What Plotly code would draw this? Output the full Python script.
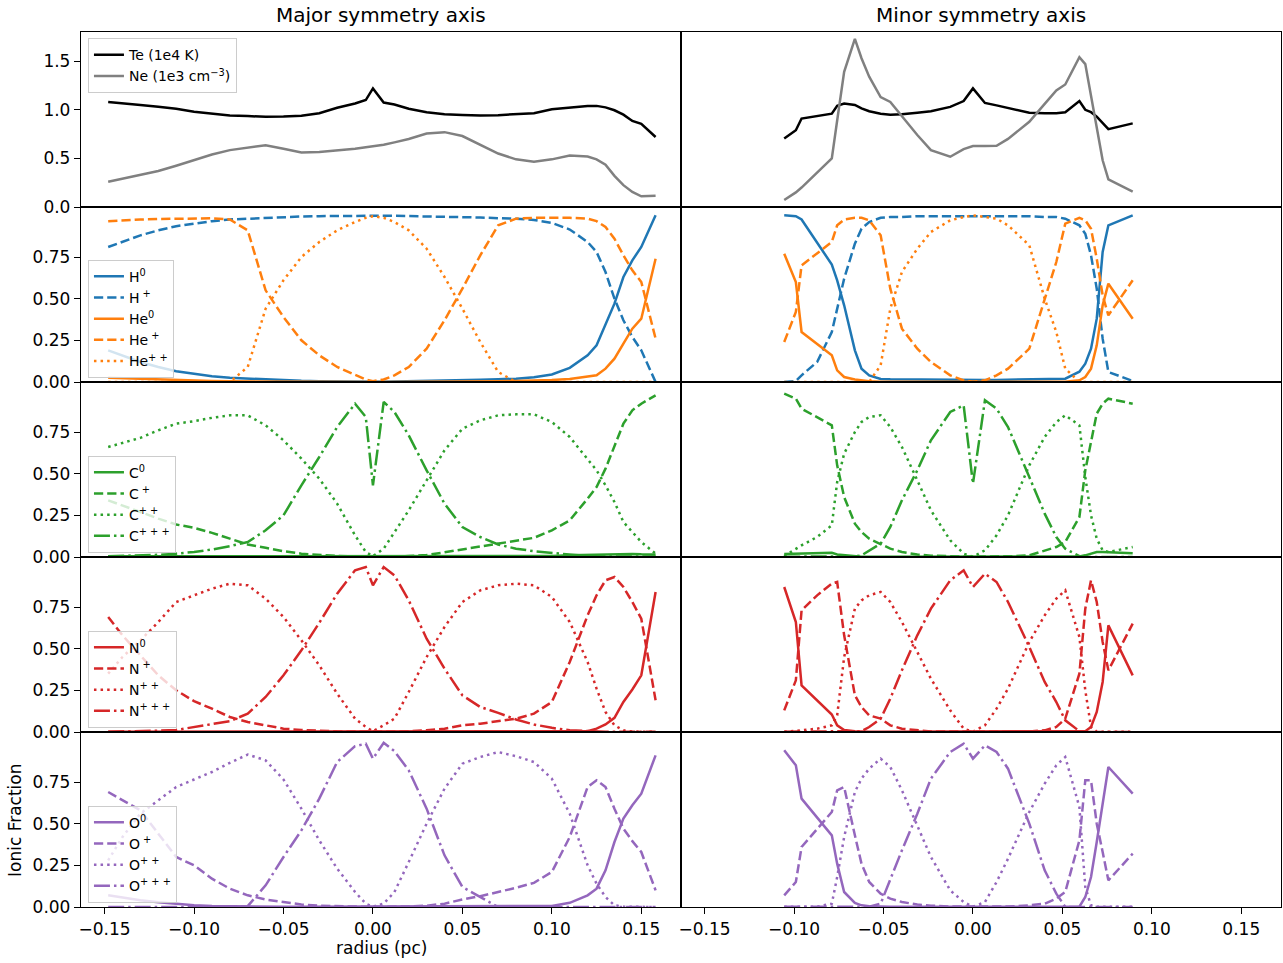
import plotly.graph_objects as go
from plotly.subplots import make_subplots

FONT = "DejaVu Sans"

# ---------------- radius grids (pc) ----------------
R_MAJOR = [-0.148, -0.140, -0.130, -0.120, -0.110, -0.100, -0.090, -0.080, -0.070, -0.060,
           -0.050, -0.040, -0.030, -0.020, -0.010, -0.004, 0.000, 0.006, 0.012, 0.020,
           0.030, 0.040, 0.050, 0.060, 0.070, 0.080, 0.090, 0.100, 0.110, 0.120,
           0.125, 0.130, 0.135, 0.140, 0.145, 0.150, 0.158]
R_MINOR = [-0.1055, -0.0990, -0.0958, -0.0871, -0.0789, -0.0759, -0.0720, -0.0660, -0.0623, -0.0580,
           -0.0516, -0.0462, -0.0397, -0.0311, -0.0235, -0.0127, -0.0052, 0.0000, 0.0067, 0.0132,
           0.0196, 0.0315, 0.0401, 0.0466, 0.0516, 0.0595, 0.0628, 0.0660, 0.0692, 0.0725,
           0.0757, 0.0893]

# ---------------- Te / Ne ----------------
TE_MAJOR = [1.08, 1.07, 1.05, 1.03, 1.01, 0.98, 0.958, 0.942, 0.935, 0.928, 0.93, 0.938, 0.965, 1.02,
            1.065, 1.10, 1.22, 1.075, 1.055, 1.01, 0.975, 0.955, 0.947, 0.942, 0.945, 0.952, 0.965,
            1.005, 1.025, 1.04, 1.04, 1.025, 0.995, 0.95, 0.885, 0.855, 0.72]
NE_MAJOR = [0.26, 0.29, 0.325, 0.37, 0.425, 0.485, 0.54, 0.585, 0.61, 0.635, 0.60, 0.56, 0.565, 0.58,
            0.60, 0.615, 0.625, 0.64, 0.665, 0.70, 0.755, 0.77, 0.73, 0.64, 0.55, 0.49, 0.465, 0.49,
            0.53, 0.52, 0.49, 0.435, 0.32, 0.225, 0.155, 0.11, 0.116]
TE_MINOR = [0.705, 0.79, 0.91, 0.935, 0.96, 1.04, 1.065, 1.05, 1.015, 0.985, 0.96, 0.95, 0.955, 0.97,
            0.985, 1.03, 1.09, 1.22, 1.07, 1.045, 1.02, 0.97, 0.965, 0.965, 0.975, 1.09, 1.0, 0.975,
            0.93, 0.86, 0.80, 0.86]
NE_MINOR = [0.072, 0.15, 0.20, 0.35, 0.50, 0.89, 1.39, 1.73, 1.53, 1.34, 1.13, 1.08, 0.93, 0.74,
            0.585, 0.517, 0.595, 0.627, 0.627, 0.63, 0.70, 0.877, 1.06, 1.20, 1.26, 1.54, 1.47, 1.13,
            0.79, 0.48, 0.284, 0.158]

# ---------------- H / He ----------------
H0_MAJOR = [0.19, 0.16, 0.12, 0.09, 0.065, 0.05, 0.035, 0.025, 0.02, 0.015, 0.01, 0.007, 0.005, 0.003,
            0.002, 0.002, 0.002, 0.002, 0.003, 0.004, 0.006, 0.008, 0.01, 0.013, 0.017, 0.02, 0.028,
            0.045, 0.085, 0.16, 0.22, 0.34, 0.47, 0.63, 0.73, 0.81, 1.0]
HP_MAJOR = [0.81, 0.84, 0.88, 0.91, 0.935, 0.95, 0.965, 0.975, 0.98, 0.985, 0.99, 0.993, 0.995, 0.997,
            0.998, 0.998, 0.998, 0.998, 0.997, 0.996, 0.994, 0.992, 0.99, 0.987, 0.983, 0.98, 0.972,
            0.955, 0.915, 0.84, 0.78, 0.66, 0.50, 0.37, 0.27, 0.19, 0.0]
HE0_MAJOR = [0.025, 0.022, 0.018, 0.015, 0.012, 0.009, 0.006, 0.004, 0.003, 0.002, 0.001, 0.001, 0.0,
             0.0, 0.0, 0.0, 0.0, 0.0, 0.0, 0.0, 0.0, 0.0, 0.001, 0.002, 0.004, 0.006, 0.008, 0.012,
             0.018, 0.03, 0.04, 0.08, 0.14, 0.23, 0.32, 0.38, 0.74]
HEP_MAJOR = [0.965, 0.97, 0.975, 0.978, 0.98, 0.982, 0.982, 0.975, 0.91, 0.55, 0.39, 0.25, 0.16, 0.09,
             0.04, 0.015, 0.005, 0.015, 0.04, 0.09, 0.2, 0.37, 0.56, 0.76, 0.94, 0.98, 0.985, 0.985,
             0.985, 0.98, 0.965, 0.93, 0.86, 0.76, 0.67, 0.60, 0.26]
HEPP_MAJOR = [0.0, 0.0, 0.0, 0.0, 0.0, 0.0, 0.0, 0.0, 0.09, 0.44, 0.61, 0.75, 0.84, 0.91, 0.96, 0.985,
              0.995, 0.985, 0.96, 0.91, 0.80, 0.63, 0.44, 0.24, 0.06, 0.0, 0.0, 0.0, 0.0, 0.0, 0.0,
              0.0, 0.0, 0.0, 0.0, 0.0, 0.0]
H0_MINOR = [1.0, 0.995, 0.975, 0.84, 0.705, 0.61, 0.46, 0.19, 0.08, 0.04, 0.018, 0.016, 0.015, 0.014,
            0.013, 0.012, 0.012, 0.012, 0.012, 0.012, 0.013, 0.014, 0.015, 0.016, 0.02, 0.062, 0.11,
            0.20, 0.38, 0.78, 0.94, 1.0]
HP_MINOR = [0.0, 0.006, 0.04, 0.12, 0.30, 0.44, 0.62, 0.83, 0.92, 0.96, 0.985, 0.99, 0.99, 0.995,
            0.995, 0.998, 0.998, 0.998, 0.998, 0.998, 0.998, 0.995, 0.99, 0.99, 0.98, 0.94, 0.89,
            0.76, 0.56, 0.26, 0.06, 0.006]
HE0_MINOR = [0.77, 0.60, 0.30, 0.23, 0.16, 0.07, 0.03, 0.015, 0.01, 0.005, 0.002, 0.002, 0.002, 0.002,
             0.002, 0.002, 0.002, 0.002, 0.002, 0.002, 0.002, 0.002, 0.002, 0.002, 0.002, 0.01, 0.03,
             0.08, 0.22, 0.46, 0.59, 0.38]
HEP_MINOR = [0.24, 0.42, 0.70, 0.775, 0.84, 0.94, 0.975, 0.985, 0.985, 0.97, 0.88, 0.56, 0.32, 0.20,
             0.12, 0.04, 0.01, 0.002, 0.01, 0.04, 0.08, 0.20, 0.50, 0.72, 0.95, 0.985, 0.97, 0.92,
             0.74, 0.52, 0.40, 0.61]
HEPP_MINOR = [0.0, 0.0, 0.0, 0.0, 0.0, 0.0, 0.0, 0.0, 0.0, 0.0, 0.10, 0.44, 0.66, 0.80, 0.90, 0.97,
              0.99, 1.0, 0.99, 0.98, 0.94, 0.82, 0.50, 0.30, 0.08, 0.0, 0.0, 0.0, 0.0, 0.0, 0.0, 0.0]

# ---------------- C ----------------
C0_MAJOR = [0.004, 0.004, 0.004, 0.004, 0.004, 0.004, 0.004, 0.004, 0.004, 0.004, 0.004, 0.004, 0.003,
            0.003, 0.003, 0.003, 0.003, 0.003, 0.003, 0.003, 0.003, 0.003, 0.003, 0.003, 0.003, 0.003,
            0.003, 0.006, 0.01, 0.012, 0.014, 0.016, 0.018, 0.018, 0.018, 0.016, 0.015]
CP_MAJOR = [0.34, 0.31, 0.27, 0.23, 0.195, 0.175, 0.145, 0.11, 0.075, 0.055, 0.035, 0.02, 0.012, 0.006,
            0.003, 0.002, 0.002, 0.002, 0.003, 0.006, 0.012, 0.028, 0.045, 0.06, 0.08, 0.095, 0.115,
            0.16, 0.22, 0.35, 0.42, 0.53, 0.66, 0.80, 0.88, 0.92, 0.97]
CPP_MAJOR = [0.66, 0.685, 0.715, 0.76, 0.80, 0.815, 0.835, 0.85, 0.85, 0.79, 0.70, 0.59, 0.47, 0.32,
             0.13, 0.03, 0.005, 0.05, 0.15, 0.28, 0.46, 0.64, 0.77, 0.82, 0.85, 0.856, 0.856, 0.81,
             0.72, 0.59, 0.52, 0.43, 0.33, 0.21, 0.15, 0.09, 0.02]
CPPP_MAJOR = [0.005, 0.007, 0.01, 0.013, 0.02, 0.03, 0.045, 0.065, 0.09, 0.16, 0.25, 0.43, 0.60, 0.78,
              0.92, 0.84, 0.43, 0.93, 0.87, 0.73, 0.52, 0.32, 0.18, 0.12, 0.075, 0.05, 0.035, 0.025,
              0.012, 0.005, 0.003, 0.003, 0.003, 0.003, 0.003, 0.003, 0.003]
C0_MINOR = [0.018, 0.02, 0.02, 0.022, 0.025, 0.015, 0.01, 0.005, 0.002, 0.002, 0.002, 0.002, 0.002,
            0.002, 0.002, 0.002, 0.002, 0.002, 0.002, 0.002, 0.002, 0.002, 0.002, 0.002, 0.002, 0.003,
            0.01, 0.02, 0.03, 0.03, 0.028, 0.022]
CP_MINOR = [0.98, 0.95, 0.89, 0.84, 0.79, 0.55, 0.36, 0.20, 0.15, 0.11, 0.08, 0.05, 0.03, 0.015, 0.008,
            0.003, 0.003, 0.003, 0.003, 0.003, 0.004, 0.01, 0.04, 0.06, 0.09, 0.24, 0.52, 0.70, 0.86,
            0.92, 0.95, 0.92]
CPP_MINOR = [0.005, 0.05, 0.07, 0.12, 0.19, 0.45, 0.62, 0.75, 0.81, 0.84, 0.85, 0.78, 0.66, 0.46, 0.28,
             0.10, 0.02, 0.002, 0.04, 0.13, 0.25, 0.55, 0.72, 0.81, 0.85, 0.79, 0.48, 0.25, 0.11, 0.04,
             0.03, 0.06]
CPPP_MINOR = [0.002, 0.002, 0.002, 0.002, 0.002, 0.002, 0.002, 0.003, 0.01, 0.04, 0.08, 0.18, 0.34,
              0.52, 0.70, 0.87, 0.91, 0.44, 0.94, 0.89, 0.78, 0.48, 0.26, 0.12, 0.05, 0.005, 0.0, 0.0,
              0.0, 0.0, 0.0, 0.0]

# ---------------- N ----------------
N0_MAJOR = [0.002, 0.002, 0.002, 0.002, 0.002, 0.002, 0.002, 0.002, 0.002, 0.002, 0.002, 0.002, 0.002,
            0.002, 0.002, 0.002, 0.002, 0.002, 0.002, 0.002, 0.002, 0.002, 0.002, 0.002, 0.002, 0.002,
            0.002, 0.002, 0.002, 0.005, 0.02, 0.045, 0.085, 0.18, 0.255, 0.34, 0.84]
NP_MAJOR = [0.69, 0.58, 0.46, 0.34, 0.25, 0.185, 0.14, 0.09, 0.06, 0.04, 0.02, 0.012, 0.007, 0.004,
            0.003, 0.002, 0.002, 0.002, 0.003, 0.005, 0.01, 0.02, 0.04, 0.05, 0.065, 0.08, 0.11, 0.18,
            0.42, 0.70, 0.82, 0.91, 0.93, 0.87, 0.78, 0.68, 0.19]
NPP_MAJOR = [0.35, 0.45, 0.55, 0.66, 0.78, 0.82, 0.86, 0.89, 0.88, 0.80, 0.69, 0.55, 0.40, 0.23, 0.08,
             0.03, 0.005, 0.04, 0.08, 0.24, 0.45, 0.63, 0.78, 0.85, 0.88, 0.89, 0.88, 0.81, 0.66, 0.42,
             0.26, 0.12, 0.04, 0.01, 0.003, 0.002, 0.002]
NPPP_MAJOR = [0.002, 0.003, 0.005, 0.008, 0.012, 0.03, 0.045, 0.065, 0.11, 0.21, 0.34, 0.49, 0.655,
              0.83, 0.97, 0.99, 0.88, 0.99, 0.94, 0.79, 0.56, 0.38, 0.22, 0.15, 0.115, 0.075, 0.045,
              0.025, 0.01, 0.005, 0.003, 0.002, 0.002, 0.002, 0.002, 0.002, 0.002]
N0_MINOR = [0.87, 0.66, 0.28, 0.19, 0.105, 0.04, 0.012, 0.005, 0.002, 0.002, 0.002, 0.002, 0.002,
            0.002, 0.002, 0.002, 0.002, 0.002, 0.002, 0.002, 0.002, 0.002, 0.002, 0.002, 0.002, 0.002,
            0.005, 0.03, 0.12, 0.30, 0.64, 0.34]
NP_MINOR = [0.13, 0.31, 0.73, 0.82, 0.89, 0.90, 0.58, 0.22, 0.15, 0.10, 0.08, 0.04, 0.02, 0.01, 0.003,
            0.003, 0.003, 0.003, 0.003, 0.003, 0.003, 0.003, 0.01, 0.03, 0.08, 0.35, 0.74, 0.91, 0.78,
            0.54, 0.37, 0.65]
NPP_MINOR = [0.002, 0.005, 0.01, 0.02, 0.04, 0.10, 0.45, 0.74, 0.79, 0.82, 0.84, 0.78, 0.66, 0.48, 0.32,
             0.13, 0.02, 0.002, 0.04, 0.14, 0.26, 0.54, 0.70, 0.80, 0.85, 0.57, 0.25, 0.03, 0.002,
             0.002, 0.002, 0.002]
NPPP_MINOR = [0.002, 0.002, 0.002, 0.002, 0.002, 0.002, 0.002, 0.002, 0.005, 0.03, 0.08, 0.20, 0.37,
              0.58, 0.74, 0.91, 0.97, 0.87, 0.95, 0.90, 0.78, 0.51, 0.30, 0.18, 0.07, 0.005, 0.0, 0.0,
              0.0, 0.0, 0.0, 0.0]

# ---------------- O ----------------
O0_MAJOR = [0.07, 0.055, 0.04, 0.028, 0.018, 0.01, 0.006, 0.004, 0.003, 0.002, 0.002, 0.002, 0.002,
            0.002, 0.002, 0.002, 0.002, 0.002, 0.002, 0.002, 0.002, 0.002, 0.002, 0.002, 0.002, 0.002,
            0.003, 0.006, 0.025, 0.07, 0.11, 0.22, 0.39, 0.53, 0.61, 0.68, 0.91]
OP_MAJOR = [0.69, 0.64, 0.58, 0.44, 0.30, 0.25, 0.17, 0.11, 0.07, 0.045, 0.03, 0.015, 0.008, 0.004,
            0.002, 0.001, 0.001, 0.001, 0.002, 0.003, 0.008, 0.02, 0.045, 0.065, 0.09, 0.115, 0.145,
            0.21, 0.42, 0.72, 0.76, 0.72, 0.59, 0.47, 0.395, 0.33, 0.10]
OPP_MAJOR = [0.28, 0.42, 0.56, 0.64, 0.72, 0.765, 0.81, 0.865, 0.915, 0.88, 0.765, 0.59, 0.40, 0.23,
             0.09, 0.02, 0.002, 0.02, 0.09, 0.27, 0.50, 0.71, 0.86, 0.90, 0.93, 0.905, 0.87, 0.77,
             0.56, 0.25, 0.14, 0.06, 0.01, 0.002, 0.001, 0.0, 0.0]
OPPP_MAJOR = [0.0, 0.0, 0.0, 0.0, 0.0, 0.0, 0.0, 0.0, 0.005, 0.13, 0.30, 0.46, 0.65, 0.87, 0.965, 0.98,
              0.89, 0.985, 0.935, 0.82, 0.59, 0.31, 0.12, 0.06, 0.0, 0.0, 0.0, 0.0, 0.0, 0.0, 0.0,
              0.0, 0.0, 0.0, 0.0, 0.0, 0.0]
O0_MINOR = [0.94, 0.85, 0.65, 0.54, 0.43, 0.26, 0.09, 0.025, 0.01, 0.005, 0.002, 0.002, 0.002, 0.002,
            0.002, 0.002, 0.002, 0.002, 0.002, 0.002, 0.002, 0.002, 0.002, 0.002, 0.002, 0.002, 0.06,
            0.18, 0.39, 0.62, 0.84, 0.68]
OP_MINOR = [0.07, 0.15, 0.36, 0.47, 0.57, 0.70, 0.72, 0.43, 0.26, 0.15, 0.08, 0.05, 0.03, 0.015,
            0.008, 0.003, 0.003, 0.003, 0.003, 0.003, 0.003, 0.01, 0.02, 0.05, 0.09, 0.40, 0.76, 0.76,
            0.50, 0.33, 0.16, 0.32]
OPP_MINOR = [0.002, 0.002, 0.002, 0.002, 0.02, 0.18, 0.42, 0.69, 0.77, 0.83, 0.89, 0.84, 0.70, 0.49,
             0.30, 0.10, 0.03, 0.002, 0.03, 0.15, 0.29, 0.57, 0.74, 0.85, 0.90, 0.60, 0.12, 0.01,
             0.002, 0.002, 0.002, 0.002]
OPPP_MINOR = [0.002, 0.002, 0.002, 0.002, 0.002, 0.002, 0.002, 0.002, 0.002, 0.002, 0.02, 0.17, 0.34,
              0.56, 0.77, 0.93, 0.98, 0.89, 0.97, 0.93, 0.83, 0.50, 0.22, 0.08, 0.0, 0.0, 0.0, 0.0,
              0.0, 0.0, 0.0, 0.0]

# ---------------- labels / ticks ----------------
TITLES = ["Major symmetry axis", "Minor symmetry axis"]
X_TICKS = [-0.15, -0.10, -0.05, 0.0, 0.05, 0.10, 0.15]
X_TICKTEXT = ["\u22120.15", "\u22120.10", "\u22120.05", "0.00", "0.05", "0.10", "0.15"]
Y_TICKS_TOP = [0.0, 0.5, 1.0, 1.5]
Y_TICKTEXT_TOP = ["0.0", "0.5", "1.0", "1.5"]
Y_TICKS_ION = [0.0, 0.25, 0.5, 0.75]
Y_TICKTEXT_ION = ["0.00", "0.25", "0.50", "0.75"]

BLUE, ORANGE, GREEN, RED, PURPLE = "#1f77b4", "#ff7f0e", "#2ca02c", "#d62728", "#9467bd"

PANELS = [
    (1, "legend", [("Te (1e4 K)", "black", "-", TE_MAJOR, TE_MINOR),
                   ("Ne (1e3 cm<sup>\u22123</sup>)", "gray", "-", NE_MAJOR, NE_MINOR)]),
    (2, "legend2", [("H<sup>0</sup>", BLUE, "-", H0_MAJOR, H0_MINOR),
                    ("H<sup> +</sup>", BLUE, "--", HP_MAJOR, HP_MINOR),
                    ("He<sup>0</sup>", ORANGE, "-", HE0_MAJOR, HE0_MINOR),
                    ("He<sup> +</sup>", ORANGE, "--", HEP_MAJOR, HEP_MINOR),
                    ("He<sup>+ +</sup>", ORANGE, ":", HEPP_MAJOR, HEPP_MINOR)]),
    (3, "legend3", [("C<sup>0</sup>", GREEN, "-", C0_MAJOR, C0_MINOR),
                    ("C<sup> +</sup>", GREEN, "--", CP_MAJOR, CP_MINOR),
                    ("C<sup>+ +</sup>", GREEN, ":", CPP_MAJOR, CPP_MINOR),
                    ("C<sup>+ + +</sup>", GREEN, "-.", CPPP_MAJOR, CPPP_MINOR)]),
    (4, "legend4", [("N<sup>0</sup>", RED, "-", N0_MAJOR, N0_MINOR),
                    ("N<sup> +</sup>", RED, "--", NP_MAJOR, NP_MINOR),
                    ("N<sup>+ +</sup>", RED, ":", NPP_MAJOR, NPP_MINOR),
                    ("N<sup>+ + +</sup>", RED, "-.", NPPP_MAJOR, NPPP_MINOR)]),
    (5, "legend5", [("O<sup>0</sup>", PURPLE, "-", O0_MAJOR, O0_MINOR),
                    ("O<sup> +</sup>", PURPLE, "--", OP_MAJOR, OP_MINOR),
                    ("O<sup>+ +</sup>", PURPLE, ":", OPP_MAJOR, OPP_MINOR),
                    ("O<sup>+ + +</sup>", PURPLE, "-.", OPPP_MAJOR, OPPP_MINOR)]),
]

DASH = {"-": "solid", "--": "9.25px,4px", ":": "2.5px,4.1px", "-.": "16px,4px,2.5px,4px"}
LW = 2.5

fig = make_subplots(rows=5, cols=2, horizontal_spacing=0, vertical_spacing=0)

for row, leg, series in PANELS:
    for name, color, style, ymaj, ymin in series:
        line = dict(color=color, width=LW, dash=DASH[style])
        fig.add_trace(go.Scatter(x=R_MAJOR, y=ymaj, mode="lines", name=name, line=line,
                                 legend=leg, showlegend=True, hoverinfo="skip"), row=row, col=1)
        fig.add_trace(go.Scatter(x=R_MINOR, y=ymin, mode="lines", name=name, line=line,
                                 legend=leg, showlegend=False, hoverinfo="skip"), row=row, col=2)

XR = [-0.1632, 0.1722]
tickfont = dict(family=FONT, size=17, color="black")
axis_common = dict(showline=True, mirror=True, linecolor="black", linewidth=1.3,
                   showgrid=False, zeroline=False, ticklen=6, tickwidth=1.3,
                   tickcolor="black", tickfont=tickfont)

for r in range(1, 6):
    for c in (1, 2):
        fig.update_xaxes(row=r, col=c, range=XR, tickvals=X_TICKS, ticktext=X_TICKTEXT,
                         ticks="outside" if r == 5 else "", showticklabels=(r == 5),
                         **axis_common)
        if r == 1:
            yr, tv, tt = [0, 1.8], Y_TICKS_TOP, Y_TICKTEXT_TOP
        else:
            yr, tv, tt = [0, 1.05], Y_TICKS_ION, Y_TICKTEXT_ION
        fig.update_yaxes(row=r, col=c, range=yr, tickvals=tv, ticktext=tt,
                         ticks="outside" if c == 1 else "", showticklabels=(c == 1),
                         **axis_common)

legend_common = dict(bgcolor="rgba(255,255,255,0.8)", bordercolor="#cccccc", borderwidth=1,
                     font=dict(family=FONT, size=14, color="black"), tracegroupgap=0,
                     itemwidth=30, xanchor="left", x=0.0058)

fig.update_layout(
    width=1283, height=963, autosize=False,
    margin=dict(l=81, r=1, t=32, b=56),
    paper_bgcolor="white", plot_bgcolor="white",
    font=dict(family=FONT, color="black"),
    legend=dict(y=0.993, yanchor="top", **legend_common),
    legend2=dict(y=0.605, yanchor="bottom", **legend_common),
    legend3=dict(y=0.405, yanchor="bottom", **legend_common),
    legend4=dict(y=0.205, yanchor="bottom", **legend_common),
    legend5=dict(y=0.005, yanchor="bottom", **legend_common),
)

annotations = [
    dict(text=TITLES[0], x=0.25, y=1.0194, xref="paper", yref="paper", showarrow=False,
         xanchor="center", yanchor="middle", font=dict(family=FONT, size=20, color="black")),
    dict(text=TITLES[1], x=0.75, y=1.0194, xref="paper", yref="paper", showarrow=False,
         xanchor="center", yanchor="middle", font=dict(family=FONT, size=20, color="black")),
    dict(text="radius (pc)", x=0.25, y=-0.047, xref="paper", yref="paper", showarrow=False,
         xanchor="center", yanchor="middle", font=dict(family=FONT, size=17, color="black")),
    dict(text="Ionic Fraction", x=-0.055, y=0.0994, xref="paper", yref="paper", showarrow=False,
         textangle=-90, xanchor="center", yanchor="middle",
         font=dict(family=FONT, size=17, color="black")),
]
fig.update_layout(annotations=annotations)

POST = ("document.body.style.margin='0';document.body.style.padding='0';"
        "document.body.style.overflow='hidden';"
        "var gd=document.getElementById('{plot_id}');"
        "Plotly.relayout(gd,{width:1283,height:963});")

fig.write_html("out.html", config={"responsive": False, "displayModeBar": False},
               post_script=POST)
